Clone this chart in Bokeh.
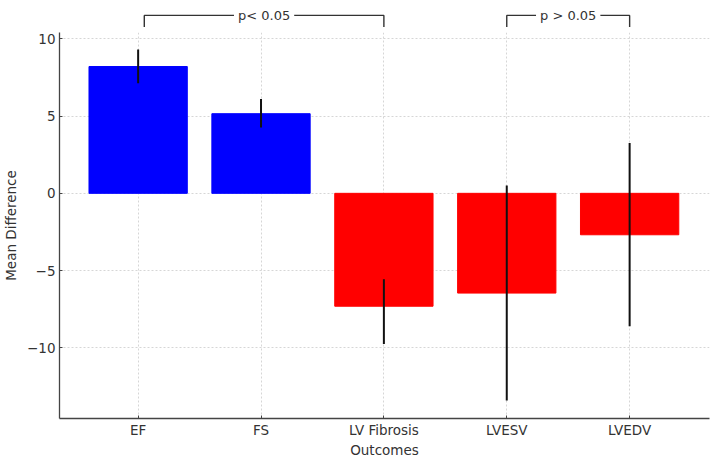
from bokeh.plotting import figure
from bokeh.layouts import column
from bokeh.models import Range1d, FixedTicker, ColumnDataSource
from bokeh.core.properties import value
from bokeh.embed import file_html
from bokeh.resources import INLINE

# ---- data ----
categories = ["EF", "FS", "LV Fibrosis", "LVESV", "LVEDV"]
means = [8.2, 5.15, -7.3, -6.45, -2.68]
err_lower = [7.12, 4.25, -9.75, -13.4, -8.6]
err_upper = [9.3, 6.1, -5.55, 0.5, 3.25]
bar_colors = ["#0000ff", "#0000ff", "#ff0000", "#ff0000", "#ff0000"]
y_ticks = [-10, -5, 0, 5, 10]
y_tick_labels = ["\u221210", "\u22125", "0", "5", "10"]
# significance brackets: (left category, right category, label)
bracket_left = [0.05, 3]
bracket_right = [2, 4]
bracket_labels = ["p< 0.05", "p > 0.05"]

FONT = "DejaVu Sans"
TXT = "#333333"
AX = "#444444"

idx = list(range(len(categories)))
x_start, x_end = -0.64, 4.65
y_start, y_end = -14.56, 10.4
top_end = 12.46
bracket_top, bracket_bottom = 11.5, 10.75

xr = Range1d(x_start, x_end)

# ---- bracket strip above the axes ----
top = figure(width=717, height=32, output_backend="svg", toolbar_location=None,
             x_range=xr, y_range=Range1d(y_end, top_end),
             min_border_left=58, min_border_right=8, min_border_top=0,
             min_border_bottom=0)
top.axis.visible = False
top.grid.visible = False
top.outline_line_color = None
bxs, bys, tx = [], [], []
for l, r in zip(bracket_left, bracket_right):
    bxs.append([l, l, r, r])
    bys.append([bracket_bottom, bracket_top, bracket_top, bracket_bottom])
    tx.append((l + r) / 2)
top.multi_line(xs=bxs, ys=bys, line_color="#333333", line_width=1.4)
top.text(x=tx, y=[bracket_top] * len(tx), text=bracket_labels,
         text_font=value(FONT), text_font_size="13px", text_color=TXT,
         text_align="center", text_baseline="middle",
         background_fill_color="white", padding=4)

# ---- main axes ----
p = figure(width=717, height=428, output_backend="svg", toolbar_location=None,
           x_range=xr, y_range=Range1d(y_start, y_end),
           min_border_left=58, min_border_right=8, min_border_top=0,
           min_border_bottom=40)
p.outline_line_color = None

for g in (p.xgrid, p.ygrid):
    g.grid_line_color = "#cccccc"
    g.grid_line_dash = "2 2"
    g.grid_line_width = 0.8
p.xgrid.ticker = FixedTicker(ticks=idx)
p.ygrid.ticker = FixedTicker(ticks=y_ticks)

src = ColumnDataSource(dict(x=idx, top=means, color=bar_colors,
                            lo=err_lower, hi=err_upper))
p.vbar(x="x", top="top", bottom=0, width=0.8, fill_color="color",
       line_color="color", source=src)
p.segment(x0="x", y0="lo", x1="x", y1="hi", line_color="#111111",
          line_width=2, source=src)

p.xaxis.ticker = FixedTicker(ticks=idx)
p.xaxis.major_label_overrides = {i: c for i, c in zip(idx, categories)}
p.yaxis.ticker = FixedTicker(ticks=y_ticks)
p.yaxis.major_label_overrides = {t: l for t, l in zip(y_ticks, y_tick_labels)}
p.xaxis.axis_label = "Outcomes"
p.yaxis.axis_label = "Mean Difference"
for ax in (p.xaxis, p.yaxis):
    ax.axis_line_color = AX
    ax.axis_line_width = 1.3
    ax.major_tick_line_color = AX
    ax.major_tick_in = 3
    ax.major_tick_out = 0
    ax.minor_tick_line_color = None
    ax.major_label_text_font = FONT
    ax.major_label_text_font_size = "13.5px"
    ax.major_label_text_color = TXT
    ax.axis_label_text_font = FONT
    ax.axis_label_text_font_size = "13.5px"
    ax.axis_label_text_font_style = "normal"
    ax.axis_label_text_color = TXT
p.xaxis.major_label_standoff = 3
p.xaxis.axis_label_standoff = 1
p.yaxis.major_label_standoff = 4
p.yaxis.axis_label_standoff = 5

layout = column(top, p, spacing=0)
open("out.html", "w").write(file_html(layout, INLINE))
